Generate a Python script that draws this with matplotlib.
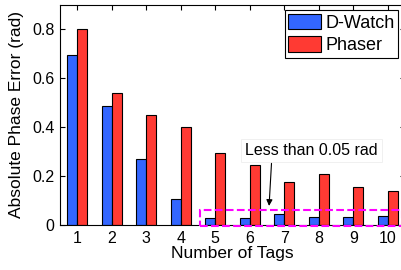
import matplotlib
matplotlib.use('Agg')
import matplotlib.pyplot as plt
import numpy as np
from matplotlib.patches import Rectangle

# data
tags = np.arange(1, 11)
dwatch = [0.695, 0.487, 0.272, 0.106, 0.030, 0.030, 0.044, 0.031, 0.031, 0.038]
phaser = [0.800, 0.538, 0.452, 0.400, 0.295, 0.244, 0.174, 0.210, 0.156, 0.139]
yticks = [0, 0.2, 0.4, 0.6, 0.8]
ytick_labels = ['0', '0.2', '0.4', '0.6', '0.8']

plt.rcParams['font.family'] = 'Liberation Sans'
plt.rcParams['font.size'] = 11

fig = plt.figure(figsize=(4.01, 2.70), dpi=100)
ax = fig.add_axes([0.1496, 0.1667, 0.8604, 0.8148])

w = 0.29
ax.bar(tags - w / 2, dwatch, w, color='#3366ff', edgecolor='black', linewidth=0.8, label='D-Watch')
ax.bar(tags + w / 2, phaser, w, color='#ff3a33', edgecolor='black', linewidth=0.8, label='Phaser')

ax.set_xlim(0.5, 10.5)
ax.set_ylim(0, 0.9)
ax.set_xticks(tags)
ax.set_yticks(yticks)
ax.set_yticklabels(ytick_labels)
ax.tick_params(direction='in', top=True, right=True, length=3.5, pad=4, labelsize=11.5)
ax.set_xlabel('Number of Tags', labelpad=0, fontsize=12.5)
ax.set_ylabel('Absolute Phase Error (rad)', labelpad=6, fontsize=12.5)

# dashed highlight box around the small D-Watch errors
box = Rectangle((4.55, -0.004), 5.85, 0.066, fill=False, edgecolor='magenta',
                linestyle='--', linewidth=1.5, clip_on=False, zorder=5)
ax.add_patch(box)

ax.text(7.79, 0.306, 'Less than 0.05 rad', ha='center', va='center', fontsize=11.5,
        bbox=dict(boxstyle='square,pad=0.25', fc='white', ec='#eeeeee', lw=0.6))
ax.annotate('', xy=(6.56, 0.078), xytext=(6.63, 0.252),
            arrowprops=dict(arrowstyle='-|>', color='black', lw=0.8,
                            shrinkA=0, shrinkB=0, mutation_scale=9))

leg = ax.legend(loc='upper right', bbox_to_anchor=(0.98, 0.977), fancybox=False,
                edgecolor='black', framealpha=1, fontsize=13, borderpad=0.2,
                labelspacing=0.25, handlelength=1.8, handleheight=0.95,
                handletextpad=0.25, borderaxespad=0.0)
leg.get_frame().set_linewidth(0.8)

fig.savefig('out.png', dpi=100)
